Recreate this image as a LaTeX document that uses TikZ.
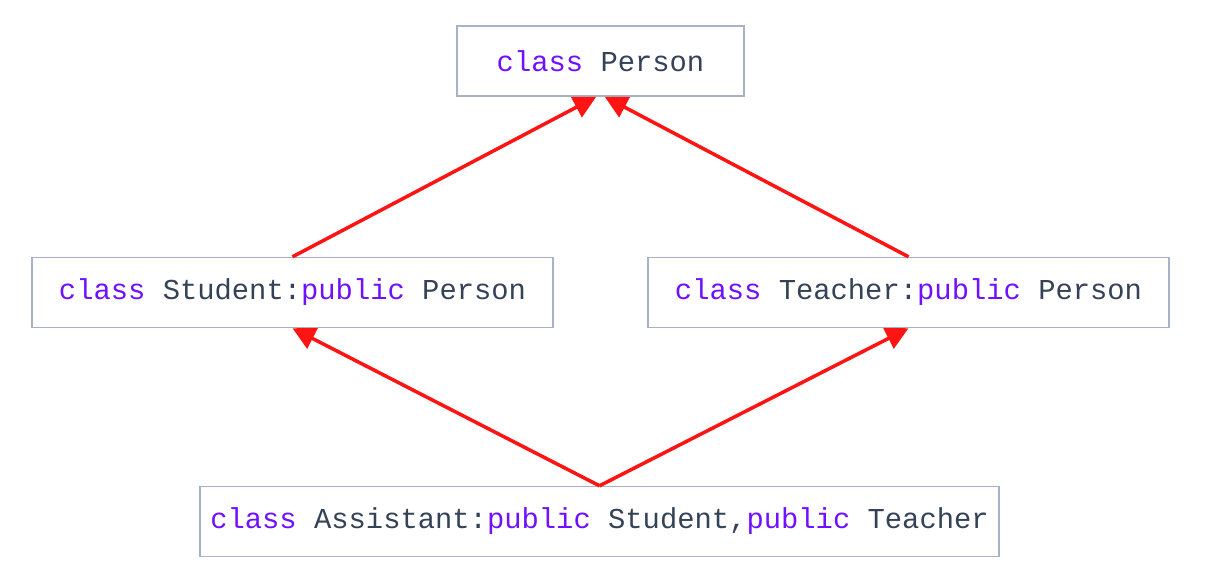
\documentclass[tikz,border=0pt]{standalone}
\usepackage{fontspec}
\setmonofont{Liberation Mono}
\usetikzlibrary{arrows.meta}
\definecolor{kwcol}{RGB}{112,16,255}
\definecolor{txtcol}{RGB}{52,66,88}
\definecolor{boxcol}{RGB}{168,178,198}
\definecolor{arrcol}{RGB}{255,20,20}
\newcommand{\kw}[1]{\textcolor{kwcol}{#1}}
\tikzset{
    every node/.style={rectangle, draw=boxcol, line width=1pt, inner sep=0mm,
      minimum height=1.75cm, font=\ttfamily\fontsize{20.5}{25}\selectfont, text=txtcol}
}
\tikzset{inherit/.style={draw=arrcol, line width=2.5pt, -{Triangle[length=16pt,width=16pt]}}}

\begin{document}
\begin{tikzpicture}[x=0.025cm, y=-0.025cm]
  \useasboundingbox (0,0) rectangle (1216,586);

  \node (person) at (600.5, 61) [minimum width=7.175cm] {\kw{class} Person};

  \node (student) at (292.5, 292.5) [minimum width=13.025cm] {\kw{class} Student:\kw{public} Person};
  \node (teacher) at (908.5, 292.5) [minimum width=13.025cm] {\kw{class} Teacher:\kw{public} Person};

  \node (assistant) at (599.5, 521.5) [minimum width=19.975cm]
    {\kw{class} Assistant:\kw{public} Student,\kw{public} Teacher};

  \draw[inherit] (student.north) -- ([xshift=-3pt]person.south);
  \draw[inherit] (teacher.north) -- ([xshift=3pt]person.south);
  \draw[inherit] (assistant.north) -- (student.south);
  \draw[inherit] (assistant.north) -- (teacher.south);
\end{tikzpicture}
\end{document}
